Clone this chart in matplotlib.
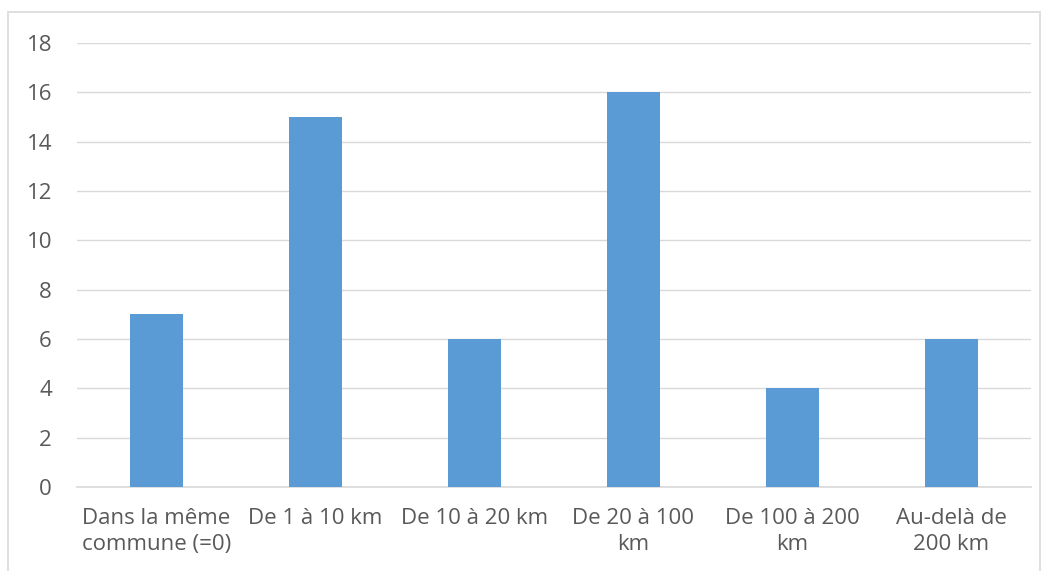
import matplotlib.pyplot as plt
from matplotlib.patches import Rectangle

plt.rcParams['font.family'] = ['Open Sans', 'DejaVu Sans']

categories = ['Dans la même\ncommune (=0)', 'De 1 à 10 km', 'De 10 à 20 km',
              'De 20 à 100\nkm', 'De 100 à 200\nkm', 'Au-delà de\n200 km']
values = [7, 15, 6, 16, 4, 6]
yticks = [0, 2, 4, 6, 8, 10, 12, 14, 16, 18]

fig = plt.figure(figsize=(10.46, 5.71), dpi=100)
ax = fig.add_axes([0.0736, 0.147, 0.912, 0.778])

# cadre du graphique
fig.patches.append(Rectangle((0.0076, -0.05), 0.987, 1.029, transform=fig.transFigure,
                             fill=False, edgecolor='#D9D9D9', linewidth=1.2))

x = range(len(categories))
ax.bar(x, values, width=0.33, color='#5B9BD5', zorder=3)

ax.set_xlim(-0.5, len(categories) - 0.5)
ax.set_ylim(0, 18)
ax.set_yticks(yticks)
ax.set_xticks(list(x))
ax.set_xticklabels(categories, fontsize=16, color='#595959', linespacing=1.35)
ax.tick_params(axis='y', labelsize=16, labelcolor='#595959', length=0, pad=18)
ax.tick_params(axis='x', length=0, pad=15)

ax.grid(axis='y', color='#D9D9D9', linewidth=1, zorder=0)
for s in ['top', 'right', 'left']:
    ax.spines[s].set_visible(False)
ax.spines['bottom'].set_color('#D9D9D9')
ax.spines['bottom'].set_linewidth(1.2)

plt.savefig('out.png', dpi=100)
